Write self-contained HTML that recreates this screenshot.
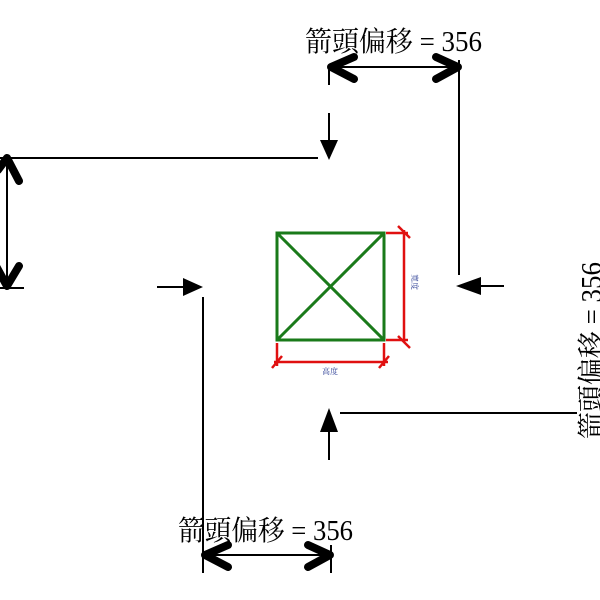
<!DOCTYPE html>
<html><head><meta charset="utf-8"><style>
html,body{margin:0;padding:0;background:#fff;width:600px;height:600px;overflow:hidden}
svg text{font-family:"Liberation Serif","Noto Serif CJK SC","Noto Sans CJK TC",serif}
</style></head><body>
<svg width="600" height="600" viewBox="0 0 600 600" xmlns="http://www.w3.org/2000/svg">
<g stroke="#000" stroke-width="2" fill="none">
<line x1="329" y1="67" x2="460" y2="67"/>
<line x1="329" y1="70" x2="329" y2="85"/>
<line x1="459" y1="60" x2="459" y2="275"/>
<line x1="329" y1="113" x2="329" y2="140"/>
<line x1="0" y1="158" x2="318" y2="158"/>
<line x1="7" y1="158" x2="7" y2="288"/>
<line x1="0" y1="288" x2="24" y2="288"/>
<line x1="157" y1="287" x2="184" y2="287"/>
<line x1="203" y1="297" x2="203" y2="573"/>
<line x1="480" y1="286" x2="504" y2="286"/>
<line x1="329" y1="432" x2="329" y2="460"/>
<line x1="340" y1="413" x2="577" y2="413"/>
<line x1="203" y1="555" x2="331" y2="555"/>
<line x1="331" y1="545" x2="331" y2="573"/>
</g>
<g stroke="#000" stroke-width="8" stroke-linecap="round" stroke-linejoin="round" fill="none">
<polyline points="354,57 331,67 354,79"/>
<polyline points="436,57 458,67 436,79"/>
<polyline points="-2,170 7,158 19,181"/>
<polyline points="-4,266 7,286 19,266"/>
<polyline points="228,545 205,555 228,567"/>
<polyline points="308,545 330,555 308,567"/>
</g>
<g fill="#000">
<polygon points="320,140 338,140 329,160"/>
<polygon points="183,278 183,296 203,287"/>
<polygon points="481,277 481,295 456,286"/>
<polygon points="320,432 338,432 329,408"/>
</g>
<g stroke="#1a7a1a" stroke-width="3" fill="none">
<rect x="277" y="233" width="107" height="107"/>
<line x1="277" y1="233" x2="384" y2="340"/>
<line x1="384" y1="233" x2="277" y2="340"/>
</g>
<g stroke="#e01010" stroke-width="2.5" fill="none">
<line x1="386" y1="233" x2="408" y2="233"/>
<line x1="386" y1="340" x2="408" y2="340"/>
<line x1="404" y1="230" x2="404" y2="342"/>
<line x1="398" y1="226" x2="410" y2="238"/>
<line x1="398" y1="336" x2="410" y2="348"/>
<line x1="277" y1="343" x2="277" y2="366"/>
<line x1="384" y1="343" x2="384" y2="366"/>
<line x1="274" y1="362" x2="388" y2="362"/>
<line x1="272" y1="368" x2="282" y2="356"/>
<line x1="379" y1="368" x2="389" y2="356"/>
</g>
<text x="330" y="374" font-size="8" fill="#334499" text-anchor="middle">高度</text>
<text x="0" y="0" font-size="8" fill="#334499" text-anchor="middle" transform="translate(412,282) rotate(90)">寬度</text>
<text x="305" y="51" font-size="28" textLength="177" lengthAdjust="spacingAndGlyphs">箭頭偏移 = 356</text>
<text x="178" y="540" font-size="28" textLength="175" lengthAdjust="spacingAndGlyphs">箭頭偏移 = 356</text>
<text x="0" y="0" font-size="28" textLength="177" lengthAdjust="spacingAndGlyphs" transform="translate(601,439) rotate(-90)">箭頭偏移 = 356</text>
</svg>
</body></html>
